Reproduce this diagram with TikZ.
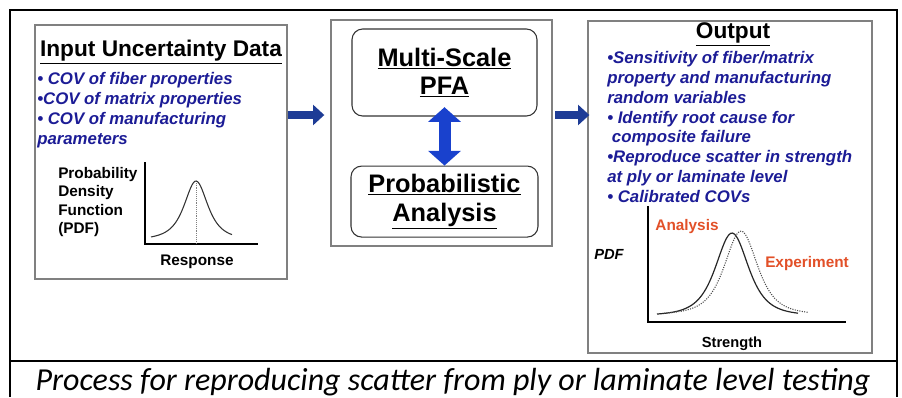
\documentclass[tikz,border=0pt]{standalone}
\usepackage{fontspec}
\setmainfont{Liberation Sans}
\newfontfamily\capfont{Carlito}
\usetikzlibrary{arrows.meta,positioning}

\definecolor{listblue}{RGB}{28,28,150}
\definecolor{arrowblue}{RGB}{30,60,150}
\definecolor{linkblue}{RGB}{25,65,205}
\definecolor{pdfred}{RGB}{226,80,40}

\begin{document}
\begin{tikzpicture}[x=0.75pt,y=-0.75pt,node distance=36.75pt,
  panel/.style={rectangle,draw=gray,line width=1pt,inner sep=0pt},
  roundbox/.style={rectangle,rounded corners=8pt,draw=black!80,line width=0.8pt,inner sep=0pt,align=center,
    font=\bfseries\fontsize{19}{21.5}\selectfont},
  heading/.style={font=\bfseries\fontsize{17}{20}\selectfont,inner sep=0pt},
  bluelist/.style={text=listblue,font=\bfseries\itshape\fontsize{12.6}{14.9}\selectfont,align=left,inner sep=0pt,anchor=north west},
  axislabel/.style={font=\bfseries\fontsize{11.5}{13.75}\selectfont,inner sep=0pt},
  flatarrow/.style={arrowblue,line width=6pt,-{Triangle[width=15pt,length=8.5pt]}}]
  \useasboundingbox (0,0) rectangle (902,397);

  % frame and caption
  \draw[line width=1.5pt] (10,397) -- (10,10) -- (897,10) -- (897,397);
  \draw[line width=0.8pt] (10,361) -- (897,361);
  \node[font=\capfont\itshape\fontsize{24}{28}\selectfont,inner sep=0pt,anchor=base] (caption) at (453,390)
    {Process for reproducing scatter from ply or laminate level testing};

  % input panel
  \node[panel,minimum width=189pt,minimum height=190.5pt] (input) at (161,152) {};
  \node[heading] (intitle) at (161,52) {\underline{Input Uncertainty Data}};
  \node[bluelist] (inlist) at (37,72) {\textbullet\ COV of fiber properties\\
    \textbullet COV of matrix properties\\
    \textbullet\ COV of manufacturing\\
    parameters};
  \node[axislabel,align=left,anchor=north west] (pdfname) at (58,167) {Probability\\Density\\Function\\(PDF)};
  \draw[line width=0.8pt] (145,162) -- (145,244) -- (258,244);
  \draw[densely dotted,gray] (196,181) -- (196,244);
  \draw[line width=0.8pt,black!80,domain=151:232,samples=60,smooth]
    plot (\x,{240.1-59.1/((1+((\x-196)/18.3)^2)^1.5)});
  \node[axislabel] (response) at (197,262) {Response};

  % core panel
  \node[panel,minimum width=165.75pt,minimum height=169.5pt] (core) at (441.5,133) {};
  \node[roundbox,minimum width=138.75pt,minimum height=65.25pt] (pfa) at (444.5,72.5)
    {\underline{Multi-Scale}\\\underline{PFA}};
  \node[roundbox,minimum width=140.25pt,minimum height=53.25pt] (prob) [below=of pfa]
    {\underline{Probabilistic}\\\underline{Analysis}};
  \draw[linkblue,line width=9pt,{Triangle[width=24pt,length=11pt]}-{Triangle[width=24pt,length=11pt]}]
    ([yshift=7pt]pfa.south) -- (prob.north);

  % output panel
  \node[panel,minimum width=213pt,minimum height=249pt] (output) at (730,187) {};
  \node[heading] (outtitle) at (733,34) {\underline{Output}};
  \node[bluelist] (outlist) at (607,51) {\textbullet Sensitivity of fiber/matrix\\
    property and manufacturing\\
    random variables\\
    \textbullet\ Identify root cause for\\
    \ composite failure\\
    \textbullet Reproduce scatter in strength\\
    at ply or laminate level\\
    \textbullet\ Calibrated COVs};
  \node[axislabel,font=\bfseries\itshape\fontsize{11}{13}\selectfont] (pdfaxis) at (609,254) {PDF};
  \draw[line width=0.8pt] (648,206) -- (648,322) -- (846,322);
  \draw[line width=0.9pt,black!85,domain=657:798,samples=70,smooth]
    plot (\x,{315.6-82.6/((1+((\x-732)/30)^2)^2)});
  \draw[line width=0.8pt,densely dotted,black!70,domain=664:808,samples=70,smooth]
    plot (\x,{314.6-83.6/((1+((\x-741)/30)^2)^2)});
  \node[axislabel,text=pdfred] (analysis) at (687,227) {Analysis};
  \node[axislabel,text=pdfred] (experiment) at (807,264) {Experiment};
  \node[axislabel,font=\bfseries\fontsize{11}{13}\selectfont] (strength) at (732,344) {Strength};

  % flow arrows
  \draw[flatarrow] (input.east|-0,115) -- ([xshift=-4.5pt]core.west|-0,115);
  \draw[flatarrow] ([xshift=2pt]core.east|-0,115) -- ([xshift=1.5pt]output.west|-0,115);
\end{tikzpicture}
\end{document}
